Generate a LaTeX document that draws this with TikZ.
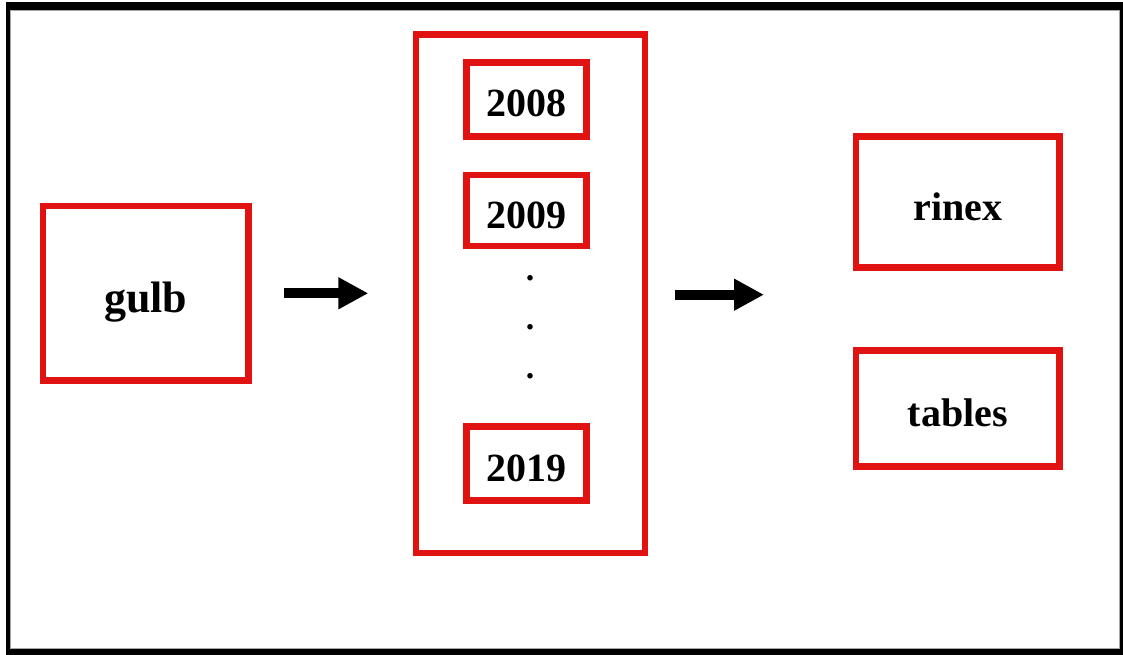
\documentclass[tikz,border=0pt]{standalone}
\usepackage{fontspec}
\setmainfont{Liberation Serif}
\usetikzlibrary{arrows.meta}
\definecolor{boxred}{RGB}{224,18,18}
\tikzset{
  redbox/.style={draw=boxred, line width=6.5pt, fill=white, inner sep=0pt,
    text height=45pt, text depth=10pt,
    font=\fontsize{40}{44}\selectfont\bfseries},
  bigarrow/.style={line width=10pt, -{Triangle[length=30pt,width=30pt]}},
  dotmark/.style={inner sep=0pt, font=\fontsize{34}{38}\selectfont\bfseries}
}
\begin{document}
\begin{tikzpicture}[x=1pt, y=-1pt]
  \useasboundingbox (0,0) rectangle (1123,655);
  % outer frame
  \fill[black] (6,2) rectangle (1123,655);
  \fill[white] (10,10) rectangle (1120,649);
  \draw[gray!70, line width=1pt] (10.5,10.5) rectangle (1119.5,648.5);

  % source
  \node[redbox, minimum width=205.5pt, minimum height=174.5pt, text height=48pt,
        font=\fontsize{44}{48}\selectfont\bfseries] (gulb) at (145.75,293.25) {gulb};

  % year container and its entries
  \node[redbox, minimum width=229pt, minimum height=518.5pt] (years) at (530.5,293.75) {};
  \node[redbox, minimum width=120pt, minimum height=73.6pt] (y2008) at (526.7,99.5) {2008};
  \node[redbox, minimum width=120pt, minimum height=71pt] (y2009) at (526.7,210.5) {2009};
  \node[dotmark] (d1) at (530,278) {.};
  \node[dotmark] (d2) at (530,327) {.};
  \node[dotmark] (d3) at (530,376) {.};
  \node[redbox, minimum width=120pt, minimum height=74pt] (y2019) at (526.7,463.7) {2019};

  % outputs
  \node[redbox, minimum width=203.7pt, minimum height=130.6pt, text height=46pt] (rinex) at (957.85,202) {rinex};
  \node[redbox, minimum width=203.7pt, minimum height=116pt] (tables) at (957.85,408.7) {tables};

  % arrows
  \coordinate (a1s) at (284,293.3);
  \coordinate (a1e) at (368.3,293.3);
  \coordinate (a2s) at (675,294.7);
  \coordinate (a2e) at (764,294.7);
  \draw[bigarrow] (a1s) -- (a1e);
  \draw[bigarrow] (a2s) -- (a2e);
\end{tikzpicture}
\end{document}
